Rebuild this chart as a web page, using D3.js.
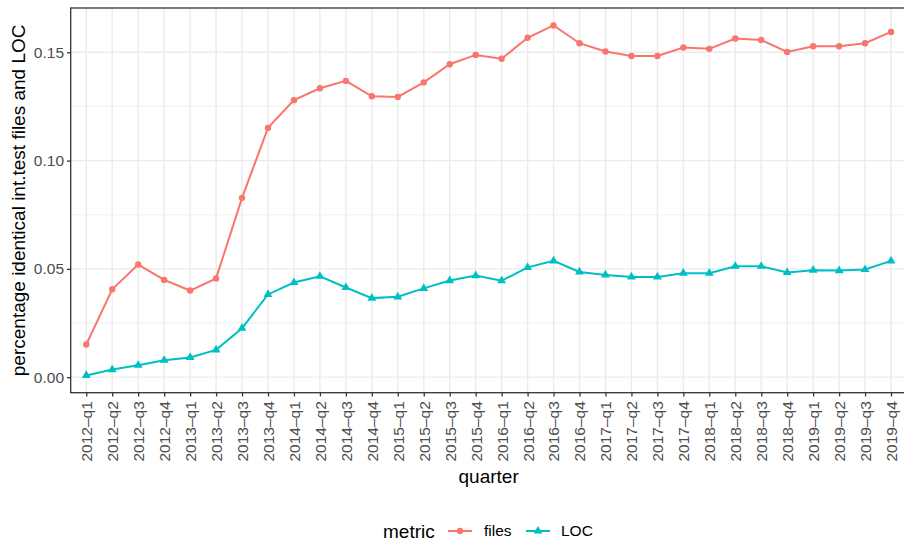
<!DOCTYPE html>
<html>
<head>
<meta charset="utf-8">
<script src="https://cdn.jsdelivr.net/npm/d3@7"></script>
<style>
  body { margin: 0; background: #fff; }
  text { font-family: "Liberation Sans", Arial, sans-serif; }
</style>
</head>
<body>
<div id="chart"></div>
<script>
// quarters on the x axis
var quarters = [
  "2012-q1","2012-q2","2012-q3","2012-q4","2013-q1","2013-q2","2013-q3","2013-q4",
  "2014-q1","2014-q2","2014-q3","2014-q4","2015-q1","2015-q2","2015-q3","2015-q4",
  "2016-q1","2016-q2","2016-q3","2016-q4","2017-q1","2017-q2","2017-q3","2017-q4",
  "2018-q1","2018-q2","2018-q3","2018-q4","2019-q1","2019-q2","2019-q3","2019-q4"
];
var filesValues = [
  0.0151, 0.0406, 0.0520, 0.0449, 0.0400, 0.0456, 0.0828, 0.1151,
  0.1279, 0.1334, 0.1368, 0.1297, 0.1294, 0.1361, 0.1445, 0.1488,
  0.1470, 0.1567, 0.1624, 0.1542, 0.1504, 0.1483, 0.1483, 0.1522,
  0.1516, 0.1564, 0.1557, 0.1502, 0.1528, 0.1528, 0.1542, 0.1594
];
var locValues = [
  0.0008, 0.0035, 0.0055, 0.0078, 0.0091, 0.0126, 0.0226, 0.0382,
  0.0437, 0.0466, 0.0414, 0.0365, 0.0371, 0.0410, 0.0446, 0.0469,
  0.0445, 0.0507, 0.0537, 0.0486, 0.0472, 0.0463, 0.0463, 0.0480,
  0.0480, 0.0512, 0.0512, 0.0483, 0.0494, 0.0492, 0.0497, 0.0537
];
var yTicks = [0, 0.05, 0.10, 0.15];
var yMinor = [0.025, 0.075, 0.125];

var w = 904, h = 540;
var panelL = 70.7, panelR = 906.6, panelT = 8, panelB = 392.7;
var colFiles = "#F8766D", colLoc = "#00BFC4";

var svg = d3.select("#chart").append("svg")
  .attr("width", w).attr("height", h);

// discrete x, with 0.6 expansion each side
var x = d3.scalePoint().domain(quarters).range([panelL, panelR]).padding(0.6);
var y = d3.scaleLinear().domain([-0.00717, 0.17046]).range([panelB, panelT]);

// grid
var grid = svg.append("g");
grid.selectAll("line.minor").data(yMinor).enter().append("line")
  .attr("x1", panelL).attr("x2", panelR)
  .attr("y1", function(d) { return y(d); }).attr("y2", function(d) { return y(d); })
  .attr("stroke", "#ebebeb").attr("stroke-width", 0.7);
grid.selectAll("line.hmaj").data(yTicks).enter().append("line")
  .attr("x1", panelL).attr("x2", panelR)
  .attr("y1", function(d) { return y(d); }).attr("y2", function(d) { return y(d); })
  .attr("stroke", "#ebebeb").attr("stroke-width", 1.4);
grid.selectAll("line.vmaj").data(quarters).enter().append("line")
  .attr("y1", panelT).attr("y2", panelB)
  .attr("x1", function(d) { return x(d); }).attr("x2", function(d) { return x(d); })
  .attr("stroke", "#ebebeb").attr("stroke-width", 1.4);

// series
var series = [
  { name: "files", values: filesValues, color: colFiles, shape: d3.symbolCircle, size: 32 },
  { name: "LOC", values: locValues, color: colLoc, shape: d3.symbolTriangle, size: 34 }
];
var line = d3.line()
  .x(function(d, i) { return x(quarters[i]); })
  .y(function(d) { return y(d); });

series.forEach(function(s) {
  svg.append("path")
    .datum(s.values)
    .attr("fill", "none")
    .attr("stroke", s.color)
    .attr("stroke-width", 2)
    .attr("d", line);
  svg.selectAll(null).data(s.values).enter().append("path")
    .attr("d", d3.symbol().type(s.shape).size(s.size))
    .attr("transform", function(d, i) { return "translate(" + [x(quarters[i]), y(d)] + ")"; })
    .attr("fill", s.color);
});

// panel border
svg.append("rect")
  .attr("x", panelL).attr("y", panelT)
  .attr("width", panelR - panelL).attr("height", panelB - panelT)
  .attr("fill", "none").attr("stroke", "#333333").attr("stroke-width", 1.3);

// axes
var yAxis = d3.axisLeft(y).tickValues(yTicks)
  .tickFormat(d3.format(".2f")).tickSize(3.7).tickPadding(3);
var gy = svg.append("g").attr("transform", "translate(" + panelL + ",0)").call(yAxis);
gy.select(".domain").remove();
gy.selectAll("line").attr("stroke", "#333333").attr("stroke-width", 1.3);
gy.selectAll("text").attr("fill", "#4d4d4d").style("font-size", "15.5px")
  .style("font-family", "'Liberation Sans', Arial, sans-serif");

var xAxis = d3.axisBottom(x).tickSize(3.7).tickSizeOuter(0)
  .tickFormat(function(d) { return d.replace("-", "\u2013"); });
var gx = svg.append("g").attr("transform", "translate(0," + panelB + ")").call(xAxis);
gx.select(".domain").remove();
gx.selectAll("line").attr("stroke", "#333333").attr("stroke-width", 1.3);
gx.selectAll("text")
  .attr("fill", "#4d4d4d").style("font-size", "15.5px")
  .style("font-family", "'Liberation Sans', Arial, sans-serif")
  .attr("transform", "rotate(-90)")
  .attr("x", -8.5).attr("y", 0).attr("dy", "0.35em")
  .style("text-anchor", "end");

// axis titles
svg.append("text")
  .attr("x", (panelL + panelR) / 2).attr("y", 483)
  .attr("text-anchor", "middle").style("font-size", "19px")
  .text("quarter");
svg.append("text")
  .attr("transform", "translate(25," + (panelT + panelB) / 2 + ") rotate(-90)")
  .attr("text-anchor", "middle").style("font-size", "19px")
  .text("percentage identical int.test files and LOC");

// legend
var legend = svg.append("g").attr("transform", "translate(0,531)");
legend.append("text").attr("x", 383).attr("y", 0).attr("dy", "0.35em")
  .style("font-size", "19px").text("metric");
var keys = [{ s: series[0], x0: 448, tx: 484 }, { s: series[1], x0: 526, tx: 561 }];
keys.forEach(function(k) {
  legend.append("line").attr("x1", k.x0).attr("x2", k.x0 + 24)
    .attr("stroke", k.s.color).attr("stroke-width", 2);
  legend.append("path")
    .attr("d", d3.symbol().type(k.s.shape).size(k.s.size))
    .attr("transform", "translate(" + (k.x0 + 12) + ",0)")
    .attr("fill", k.s.color);
  legend.append("text").attr("x", k.tx).attr("y", 0).attr("dy", "0.35em")
    .style("font-size", "15.5px").text(k.s.name);
});
</script>
</body>
</html>
